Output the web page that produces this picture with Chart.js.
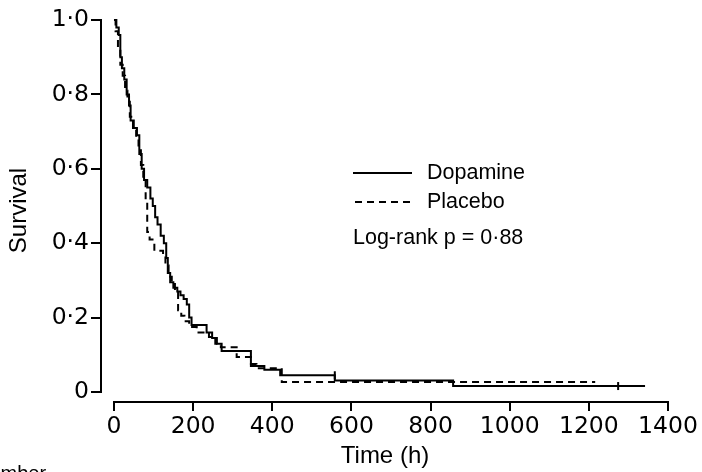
<!DOCTYPE html>
<html>
<head>
<meta charset="utf-8">
<script src="https://cdn.jsdelivr.net/npm/chart.js@4.4.1/dist/chart.umd.min.js"></script>
<style>
  html, body { margin: 0; padding: 0; background: #fff; }
  #wrap { position: relative; width: 702px; height: 472px; }
</style>
</head>
<body>
<div id="wrap"><canvas id="c" width="702" height="472"></canvas></div>
<script>
// Kaplan–Meier survival estimates: time since randomisation (h) and survival proportion
const dopamineTimes    = [0, 6, 12, 16, 20, 26, 32, 38, 42, 50, 58, 64, 70, 76, 84, 92, 98, 104, 110, 118, 126, 132, 136, 142, 150, 160, 168, 176, 184, 190, 196, 234, 248, 260, 272, 346, 380, 420, 558, 857, 1342];
const dopamineSurvival = [1.0, 0.98, 0.96, 0.90, 0.87, 0.84, 0.80, 0.77, 0.73, 0.71, 0.69, 0.64, 0.60, 0.57, 0.55, 0.52, 0.50, 0.47, 0.45, 0.42, 0.40, 0.36, 0.32, 0.295, 0.28, 0.27, 0.26, 0.25, 0.235, 0.20, 0.18, 0.16, 0.145, 0.13, 0.11, 0.07, 0.06, 0.045, 0.031, 0.016, 0.016];

const placeboTimes    = [0, 4, 10, 16, 22, 28, 34, 40, 48, 56, 62, 68, 74, 80, 84, 90, 102, 124, 130, 138, 146, 154, 162, 170, 178, 190, 209, 240, 256, 270, 310, 346, 360, 424, 1216];
const placeboSurvival = [1.0, 0.97, 0.93, 0.88, 0.85, 0.81, 0.78, 0.74, 0.71, 0.68, 0.65, 0.61, 0.57, 0.51, 0.43, 0.41, 0.38, 0.37, 0.34, 0.31, 0.29, 0.27, 0.22, 0.205, 0.19, 0.175, 0.16, 0.148, 0.13, 0.12, 0.094, 0.075, 0.064, 0.027, 0.027];

// censored observations on the dopamine curve
const dopamineCensorTimes    = [558, 1274];
const dopamineCensorSurvival = [0.045, 0.016];

const seriesNames = ['Dopamine', 'Placebo'];
const testLabel   = 'Log-rank p = 0·88';
const xTitle      = 'Time (h)';
const yTitle      = 'Survival';
const footLabel   = 'Number';

const xTickValues = [0, 200, 400, 600, 800, 1000, 1200, 1400];
const xTickLabels = ['0', '200', '400', '600', '800', '1000', '1200', '1400'];
const yTickValues = [0, 0.2, 0.4, 0.6, 0.8, 1.0];
const yTickLabels = ['0', '0·2', '0·4', '0·6', '0·8', '1·0'];

const toPoints = (xs, ys) => xs.map((x, i) => ({ x: x, y: ys[i] }));
const labelFor = (values, labels) => v => labels[values.findIndex(t => Math.abs(t - v) < 1e-6)];

const TICK_FONT  = { family: '"DejaVu Sans", sans-serif', size: 23.5 };
const TITLE_FONT = { family: '"Liberation Sans", Arial, sans-serif', size: 24 };
const TEXT_FONT  = '21.5px "Liberation Sans", Arial, sans-serif';

// axis lines that stop at the first and last tick (offset axes)
const axisLines = {
  id: 'axisLines',
  afterDraw(chart) {
    const { ctx, chartArea, scales } = chart;
    const x = scales.x, y = scales.y;
    ctx.save();
    ctx.strokeStyle = '#000';
    ctx.lineWidth = 2;
    ctx.beginPath();
    ctx.moveTo(chartArea.left - 1, y.getPixelForValue(yTickValues[yTickValues.length - 1]) - 1);
    ctx.lineTo(chartArea.left - 1, y.getPixelForValue(yTickValues[0]) + 1);
    ctx.stroke();
    ctx.beginPath();
    ctx.moveTo(x.getPixelForValue(xTickValues[0]) - 1, chartArea.bottom + 1);
    ctx.lineTo(x.getPixelForValue(xTickValues[xTickValues.length - 1]) + 1, chartArea.bottom + 1);
    ctx.stroke();
    ctx.restore();
  }
};

// key, test statistic and footer text
const keyPlugin = {
  id: 'kmKey',
  afterDraw(chart, args, opts) {
    const ctx = chart.ctx;
    ctx.save();
    ctx.fillStyle = '#000';
    ctx.font = TEXT_FONT;
    ctx.textBaseline = 'middle';
    chart.data.datasets.slice(0, 2).forEach((ds, i) => {
      const yy = opts.y0 + i * opts.rowGap;
      ctx.beginPath();
      ctx.setLineDash(ds.borderDash || []);
      ctx.lineWidth = ds.borderWidth;
      ctx.strokeStyle = ds.borderColor;
      const start = ds.borderDash ? opts.x0 + 2 : opts.x0;
      ctx.moveTo(start, yy);
      ctx.lineTo(opts.x0 + opts.lineLen, yy);
      ctx.stroke();
      ctx.setLineDash([]);
      ctx.fillText(ds.label, opts.x0 + opts.lineLen + opts.gap, yy);
    });
    ctx.fillText(testLabel, opts.x0, opts.statY);
    ctx.font = '20px "Liberation Sans", Arial, sans-serif';
    ctx.textBaseline = 'alphabetic';
    ctx.fillText(footLabel, opts.footX, opts.footY);
    ctx.restore();
  }
};

new Chart(document.getElementById('c'), {
  type: 'line',
  data: {
    datasets: [
      {
        label: seriesNames[0],
        data: toPoints(dopamineTimes, dopamineSurvival),
        borderColor: '#000',
        borderWidth: 2,
        stepped: true,
        pointRadius: 0,
        fill: false,
        clip: false
      },
      {
        label: seriesNames[1],
        data: toPoints(placeboTimes, placeboSurvival),
        borderColor: '#000',
        borderWidth: 2,
        borderDash: [7, 5],
        stepped: true,
        pointRadius: 0,
        fill: false,
        clip: false
      },
      {
        label: seriesNames[0] + ' (censored)',
        data: toPoints(dopamineCensorTimes, dopamineCensorSurvival),
        showLine: false,
        pointStyle: 'line',
        rotation: 90,
        pointRadius: 4,
        borderColor: '#000',
        borderWidth: 2,
        clip: false
      }
    ]
  },
  options: {
    responsive: false,
    animation: false,
    devicePixelRatio: 1,
    layout: { padding: { left: 0, top: 20, right: 34, bottom: 0 } },
    plugins: {
      legend: { display: false },
      tooltip: { enabled: false },
      kmKey: { x0: 353, y0: 173, rowGap: 29, lineLen: 59, gap: 15, statY: 238, footX: -25, footY: 480 }
    },
    scales: {
      x: {
        type: 'linear',
        min: -30.3,
        max: 1400,
        afterBuildTicks: s => { s.ticks = xTickValues.map(v => ({ value: v })); },
        afterFit: s => { s.height = 71; },
        border: { display: false },
        grid: { drawOnChartArea: false, drawTicks: true, tickLength: 10, color: '#000', lineWidth: 2 },
        ticks: { color: '#000', font: TICK_FONT, padding: 2, maxRotation: 0, autoSkip: false,
                 callback: labelFor(xTickValues, xTickLabels) },
        title: { display: true, text: xTitle, color: '#000', font: TITLE_FONT, padding: { top: 0, bottom: 1 } }
      },
      y: {
        min: -0.0242,
        max: 1.0,
        afterBuildTicks: s => { s.ticks = yTickValues.map(v => ({ value: v })); },
        afterFit: s => { s.width = 102; },
        border: { display: false },
        grid: { drawOnChartArea: false, drawTicks: true, tickLength: 11, color: '#000', lineWidth: 2 },
        ticks: { color: '#000', font: TICK_FONT, padding: 2, autoSkip: false,
                 callback: labelFor(yTickValues, yTickLabels) },
        title: { display: true, text: yTitle, color: '#000', font: TITLE_FONT, padding: { top: 5, bottom: 0 } }
      }
    }
  },
  plugins: [axisLines, keyPlugin]
});
</script>
</body>
</html>
